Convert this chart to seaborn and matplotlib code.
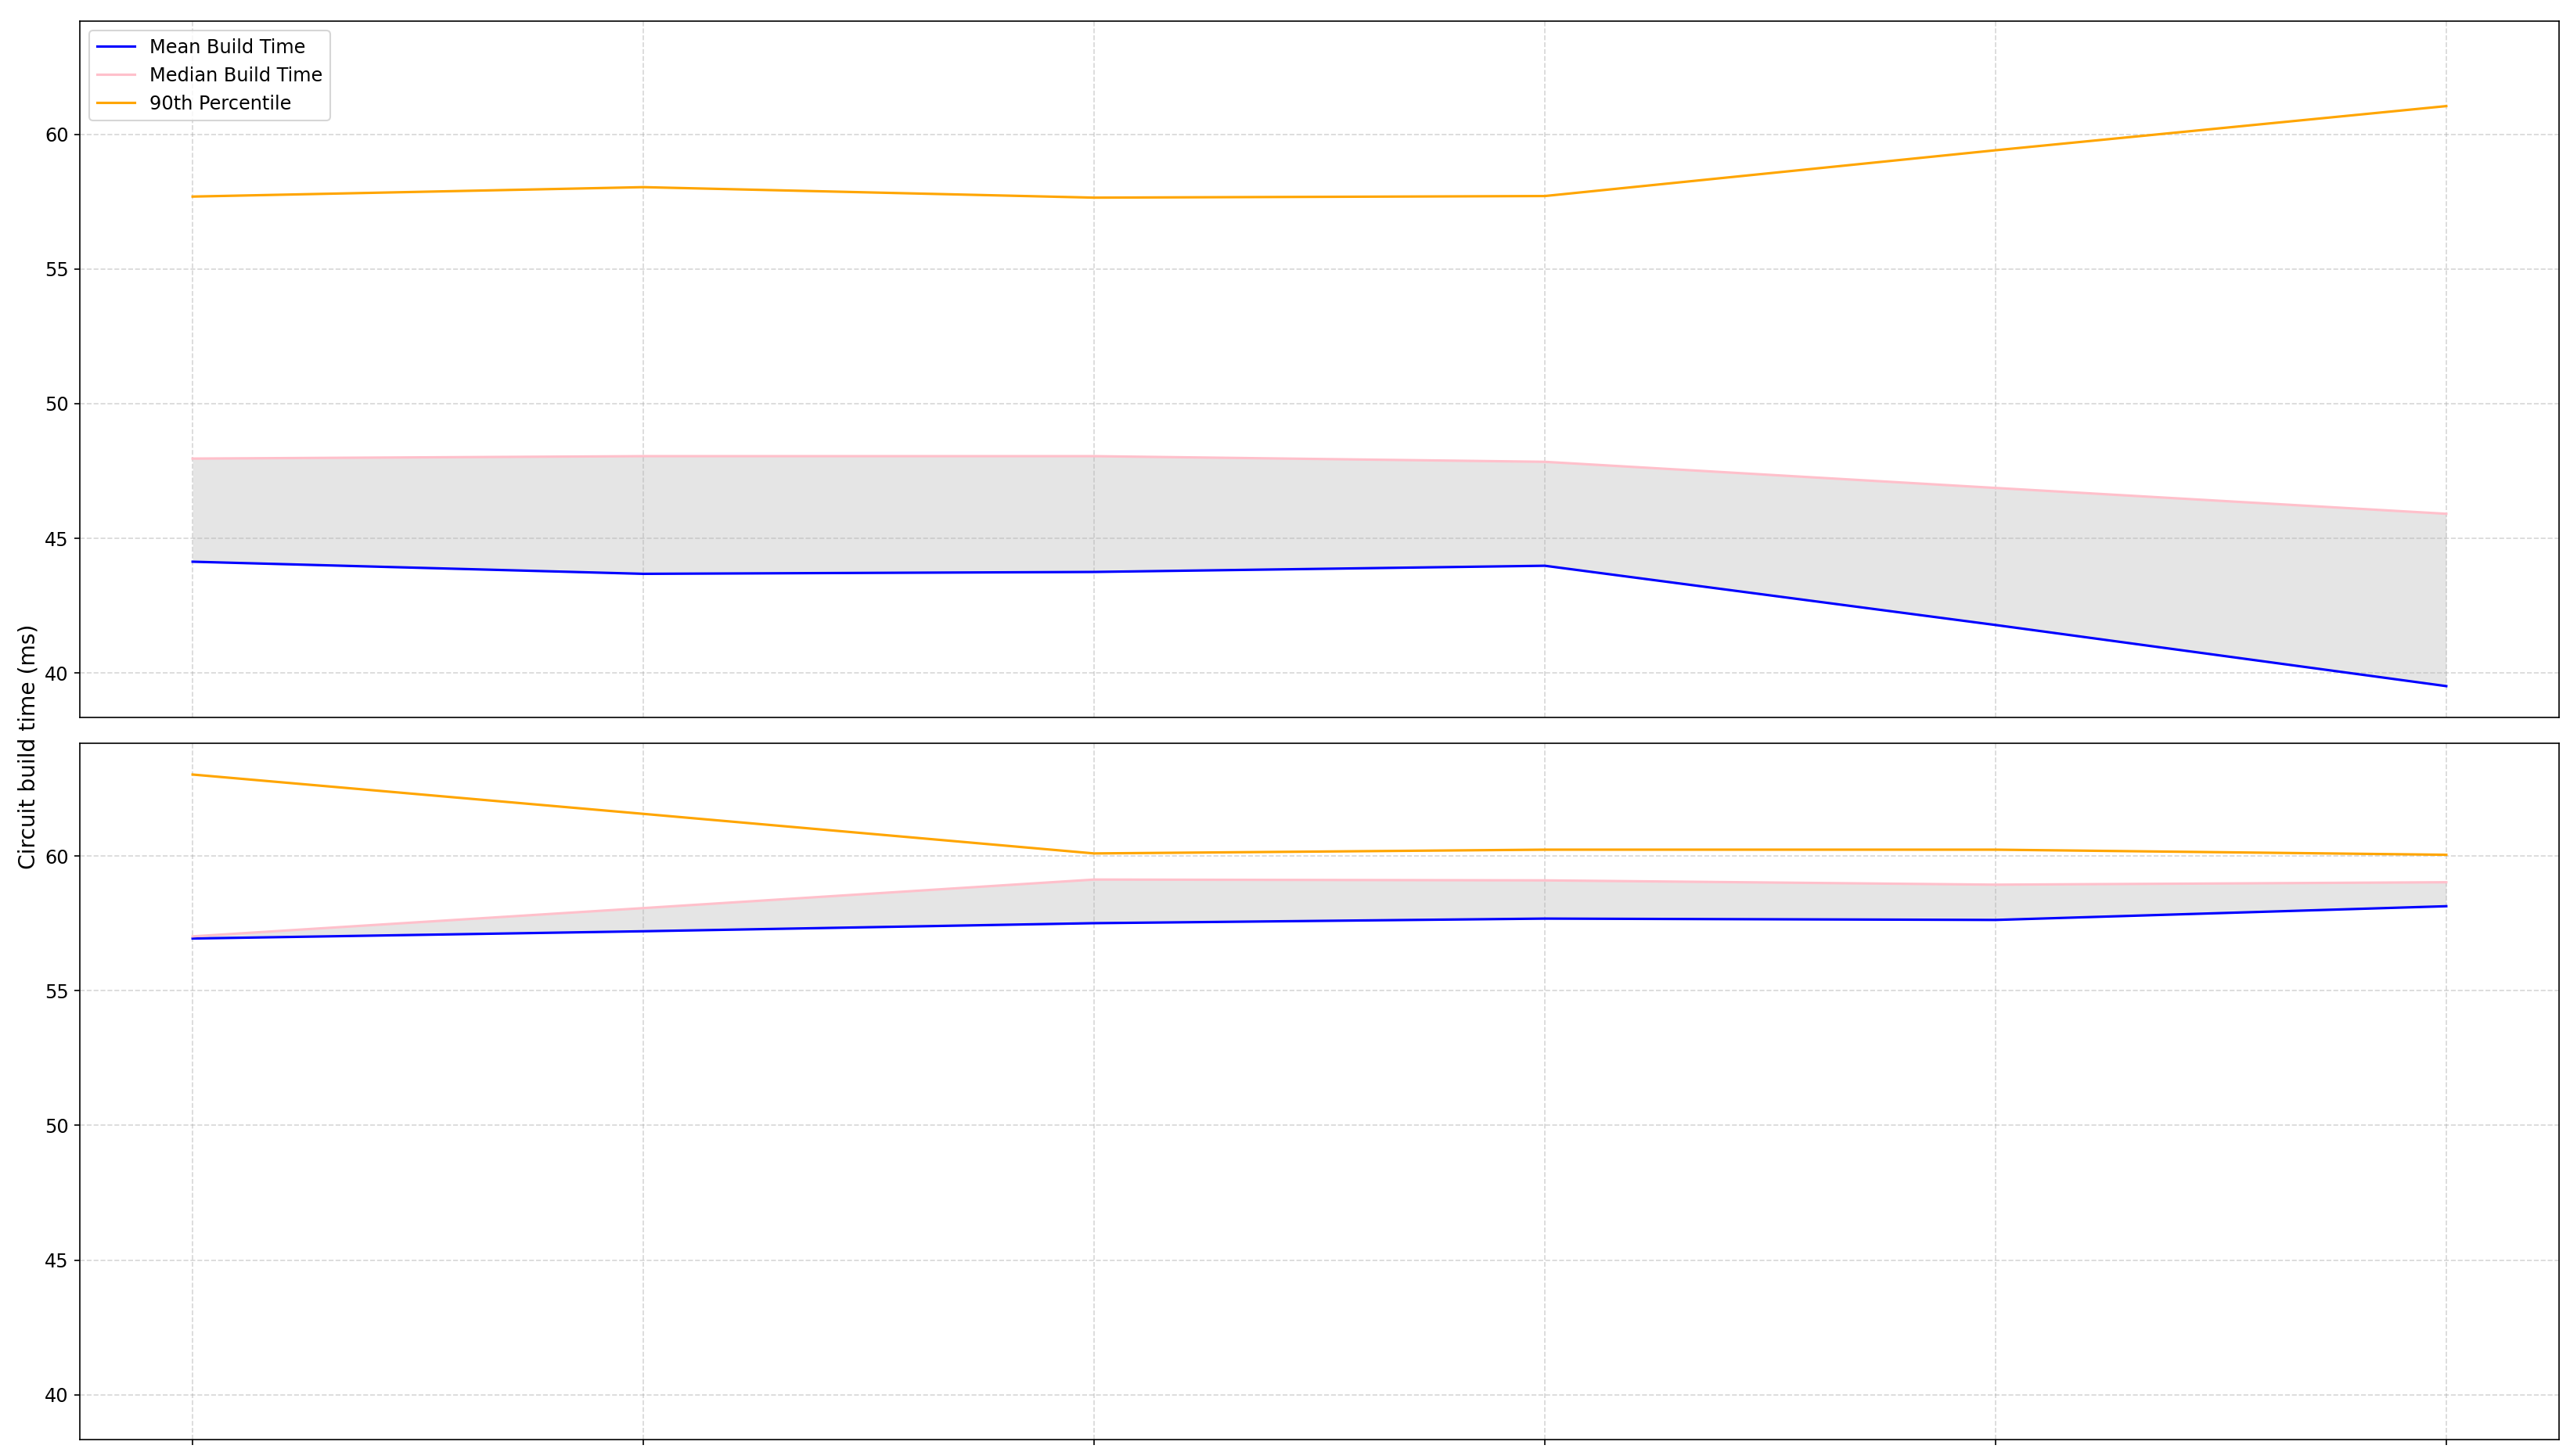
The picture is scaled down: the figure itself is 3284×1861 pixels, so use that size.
import numpy as np
import matplotlib
matplotlib.use("Agg")
import matplotlib.pyplot as plt
import seaborn as sns

# build time stats per run
runs = [1, 2, 3, 4, 5, 6]

# upper panel
mean_top = [44.13, 43.68, 43.75, 43.98, 41.78, 39.51]
median_top = [47.96, 48.05, 48.05, 47.84, 46.87, 45.91]
p90_top = [57.69, 58.04, 57.65, 57.71, 59.41, 61.05]

# lower panel
mean_bot = [56.94, 57.21, 57.51, 57.68, 57.63, 58.14]
median_bot = [57.02, 58.07, 59.13, 59.10, 58.94, 59.03]
p90_bot = [63.03, 61.57, 60.10, 60.24, 60.24, 60.05]

plt.rcParams['font.family'] = ['DejaVu Sans']

fig, (ax1, ax2) = plt.subplots(2, 1, figsize=(3284 / 150, 1861 / 150), dpi=150,
                               sharex=True, sharey=True)
fig.subplots_adjust(left=0.0311, right=0.9957, top=0.9855, bottom=0.0113, hspace=0.036)

panels = [(ax1, mean_top, median_top, p90_top, True),
          (ax2, mean_bot, median_bot, p90_bot, False)]

for ax, mean_v, med_v, p90_v, show_legend in panels:
    sns.lineplot(x=runs, y=mean_v, ax=ax, color='blue',
                 label='Mean Build Time' if show_legend else None, legend=show_legend)
    sns.lineplot(x=runs, y=med_v, ax=ax, color='pink',
                 label='Median Build Time' if show_legend else None, legend=show_legend)
    sns.lineplot(x=runs, y=p90_v, ax=ax, color='orange',
                 label='90th Percentile' if show_legend else None, legend=show_legend)
    ax.fill_between(runs, mean_v, med_v, color='gray', alpha=0.2, linewidth=0)
    ax.grid(True, linestyle='--', alpha=0.5)
    ax.set_ylabel('')
    ax.set_xlabel('')

ax1.legend(loc='upper left', fontsize=11.5)
ax2.set_xticks(runs)
ax2.set_xticklabels([])
ax1.tick_params(axis='x', bottom=False)
ax1.tick_params(axis='y', labelsize=11.5)
ax2.tick_params(axis='y', labelsize=11.5)

fig.text(0.011, 0.487, 'Circuit build time (ms)', rotation=90, fontsize=13.5,
         ha='center', va='center')

fig.savefig('out.png', dpi=150)
